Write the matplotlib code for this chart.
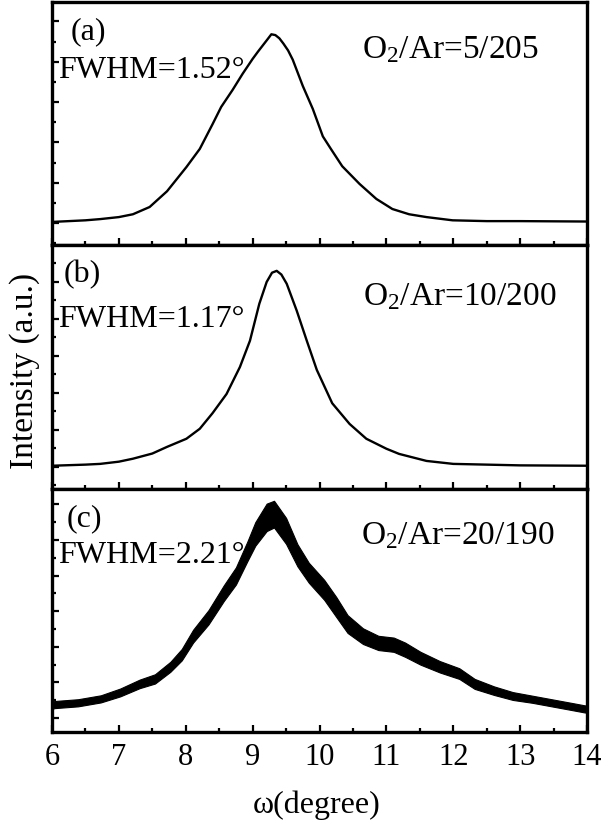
import matplotlib
matplotlib.use("Agg")
import matplotlib.pyplot as plt
from matplotlib.ticker import MultipleLocator, NullFormatter

plt.rcParams['font.family'] = ['Liberation Serif', 'DejaVu Serif']
plt.rcParams['mathtext.fontset'] = 'custom'
plt.rcParams['mathtext.rm'] = 'Liberation Serif'
plt.rcParams['mathtext.it'] = 'Liberation Serif:italic'

# ---- data (intensity in arbitrary units) ----
a_x = [6.00, 6.50, 6.72, 7.00, 7.21, 7.46, 7.72, 8.01, 8.21, 8.40, 8.53, 8.70, 8.85,
       9.00, 9.08, 9.15, 9.22, 9.28, 9.34, 9.40, 9.46, 9.53, 9.60, 9.75, 9.90, 10.05,
       10.17, 10.34, 10.60, 10.85, 11.09, 11.34, 11.60, 11.99, 12.50, 13.00, 14.00]
a_y = [0.03, 0.07, 0.10, 0.15, 0.22, 0.40, 0.79, 1.39, 1.84, 2.45, 2.88, 3.30, 3.70,
       4.07, 4.25, 4.40, 4.55, 4.68, 4.66, 4.58, 4.45, 4.28, 4.05, 3.40, 2.83, 2.15,
       1.84, 1.41, 0.97, 0.60, 0.35, 0.22, 0.15, 0.07, 0.05, 0.05, 0.04]

b_x = [6.00, 6.50, 6.72, 7.00, 7.21, 7.50, 7.72, 8.01, 8.21, 8.40, 8.61, 8.81, 8.96,
       9.10, 9.21, 9.29, 9.36, 9.43, 9.51, 9.66, 9.81, 9.96, 10.19, 10.45, 10.70,
       11.00, 11.19, 11.60, 12.00, 13.00, 14.00]
b_y = [0.03, 0.06, 0.08, 0.14, 0.22, 0.36, 0.54, 0.76, 1.03, 1.45, 1.97, 2.70, 3.41,
       4.41, 5.00, 5.25, 5.30, 5.20, 4.95, 4.22, 3.41, 2.62, 1.72, 1.16, 0.76,
       0.49, 0.35, 0.16, 0.08, 0.04, 0.03]

c_x = [6.00, 6.04, 6.39, 6.73, 7.02, 7.31, 7.54, 7.77, 7.94, 8.11, 8.34, 8.57, 8.75,
       8.92, 9.04, 9.21, 9.32, 9.50, 9.67, 9.84, 10.07, 10.25, 10.42, 10.65, 10.88,
       11.11, 11.28, 11.51, 11.80, 12.09, 12.32, 12.61, 12.89, 13.18, 13.47, 13.76,
       13.96, 14.00]
c_low = [0.26, 0.28, 0.33, 0.44, 0.61, 0.84, 0.97, 1.30, 1.62, 2.12, 2.63, 3.29, 3.75,
         4.40, 4.84, 5.25, 5.35, 4.89, 4.26, 3.80, 3.32, 2.84, 2.39, 2.08, 1.91,
         1.86, 1.72, 1.50, 1.28, 1.10, 0.82, 0.65, 0.51, 0.43, 0.33, 0.23, 0.16, 0.15]
c_high = [0.46, 0.48, 0.53, 0.64, 0.83, 1.08, 1.23, 1.58, 1.94, 2.48, 3.03, 3.73, 4.23,
          4.95, 5.50, 6.02, 6.10, 5.62, 4.88, 4.36, 3.88, 3.40, 2.89, 2.52, 2.31,
          2.26, 2.12, 1.86, 1.60, 1.40, 1.10, 0.89, 0.73, 0.63, 0.53, 0.43, 0.36, 0.35]

panel_tags = ["(a)", "(b)", "(c)"]
fwhm_labels = ["FWHM=1.52°", "FWHM=1.17°", "FWHM=2.21°"]
ratio_labels = ["O$_2$/Ar=5/205", "O$_2$/Ar=10/200", "O$_2$/Ar=20/190"]
x_ticks = [6, 7, 8, 9, 10, 11, 12, 13, 14]

# ---- figure ----
fig = plt.figure(figsize=(6.06, 8.29), dpi=100)
fig.subplots_adjust(left=52/606, right=587/606, top=1-3/829, bottom=1-733/829, hspace=0)
axes = fig.subplots(3, 1, sharex=True)

ylims = [(-0.55, 5.48), (-0.59, 5.99), (-0.39, 6.44)]
tag_pos = [(0.034, 0.850), (0.022, 0.853), (0.028, 0.851)]
fwhm_pos = [(0.011, 0.692), (0.011, 0.669), (0.011, 0.699)]
ratio_pos = [(0.579, 0.774), (0.581, 0.759), (0.577, 0.777)]

axes[0].plot(a_x, a_y, color='black', lw=1.7)
axes[1].plot(b_x, b_y, color='black', lw=1.7)
axes[2].fill_between(c_x, c_low, c_high, color='black', lw=0.8)

fs = 22
for i, ax in enumerate(axes):
    ax.set_xlim(6, 14)
    ax.set_ylim(*ylims[i])
    for sp in ax.spines.values():
        sp.set_linewidth(2.4)
    ax.yaxis.set_major_locator(MultipleLocator(1))
    ax.yaxis.set_minor_locator(MultipleLocator(0.5))
    ax.yaxis.set_major_formatter(NullFormatter())
    if i < 2:
        ax.xaxis.set_major_locator(MultipleLocator(2))
        ax.xaxis.set_minor_locator(MultipleLocator(1))
    else:
        ax.set_xticks(x_ticks)
        ax.xaxis.set_minor_locator(MultipleLocator(0.5))
    ax.tick_params(axis='both', which='both', direction='in', top=False, right=False)
    ax.tick_params(axis='both', which='major', length=5, width=1.6)
    ax.tick_params(axis='both', which='minor', length=3, width=1.6)
    ax.tick_params(axis='x', labelsize=fs, pad=7)
    if i < 2:
        ax.tick_params(axis='x', labelbottom=False)
    ax.text(*tag_pos[i], panel_tags[i], transform=ax.transAxes, fontsize=23, va='baseline')
    ax.text(*fwhm_pos[i], fwhm_labels[i], transform=ax.transAxes, fontsize=23, va='baseline')
    ax.text(*ratio_pos[i], ratio_labels[i], transform=ax.transAxes, fontsize=24, va='baseline')

fig.text(317/606, 1-805/829, "ω(degree)", fontsize=23, ha='center', va='center')
fig.text(25/606, 1-371/829, "Intensity (a.u.)", fontsize=24, ha='center', va='center', rotation=90)

fig.savefig("out.png", dpi=100)
